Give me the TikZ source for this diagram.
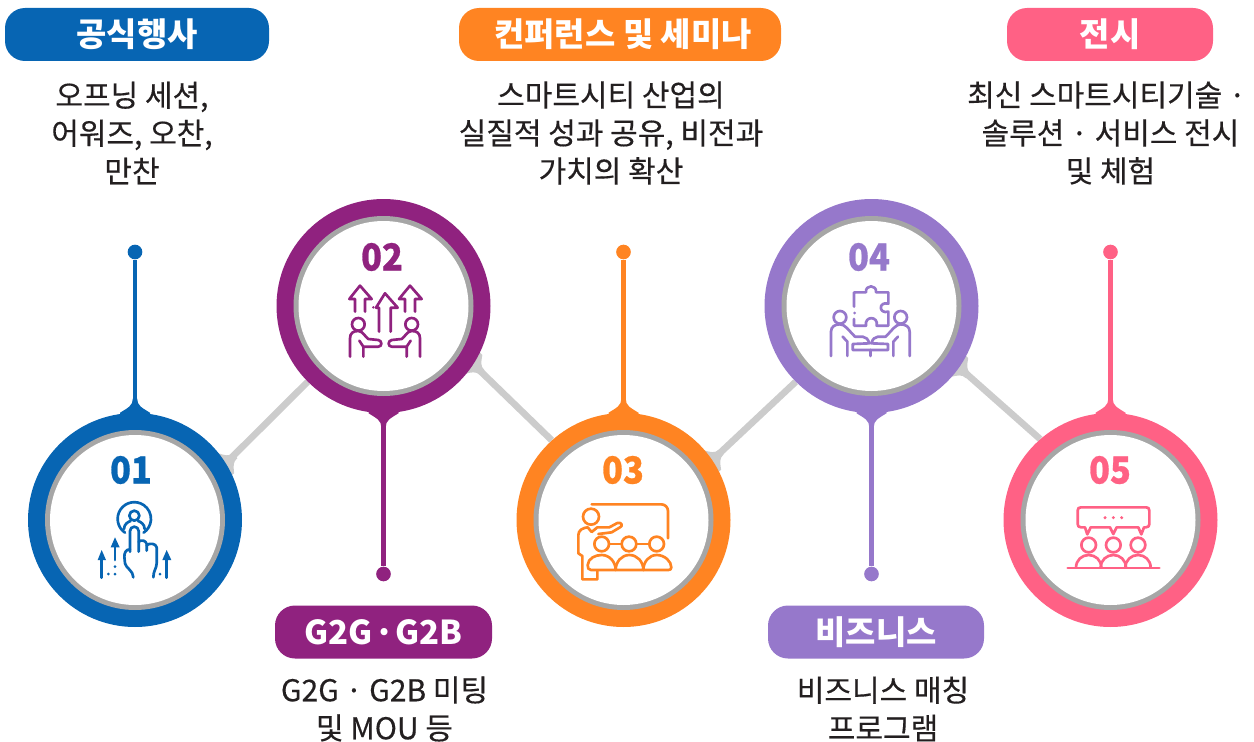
\documentclass[tikz,border=0pt]{standalone}
\usepackage{fontspec}
\setmainfont{Noto Sans CJK KR}
\newfontfamily\bodyfont[FakeBold=0.35]{Noto Sans CJK KR}
\newfontfamily\numfont[FakeBold=0.7,FakeStretch=0.92]{Noto Sans CJK KR Black}
\usetikzlibrary{backgrounds,positioning}
\definecolor{cblue}{HTML}{0765B3}
\definecolor{cpurple}{HTML}{90227F}
\definecolor{corange}{HTML}{FF8422}
\definecolor{cviolet}{HTML}{9678CB}
\definecolor{cpink}{HTML}{FF6185}
\definecolor{cring}{HTML}{A6A6A6}
\definecolor{clink}{HTML}{CCCCCC}
\definecolor{ctext}{HTML}{231F20}
\tikzset{
  outerdisc/.style={circle,inner sep=0pt,minimum size=160.5pt,fill=#1},
  ringdisc/.style={circle,inner sep=0pt,minimum size=135pt,fill=cring},
  innerdisc/.style={circle,inner sep=0pt,minimum size=127.5pt,fill=white},
  pill/.style={rectangle,rounded corners=15pt,fill=#1,text=white,inner sep=0pt,minimum height=39.75pt,font=\fontsize{24.7}{28}\selectfont\bfseries},
  bodytext/.style={align=center,text=ctext,inner sep=0pt,font=\bodyfont\fontsize{22.5}{28.5}\selectfont},
  numtext/.style={text=#1,inner sep=0pt,font=\numfont\fontsize{28}{30}\selectfont},
  pindot/.style={circle,inner sep=0pt,minimum size=11pt,fill=#1},
  stem/.style={draw=#1,line width=3.4pt},
  linkline/.style={draw=clink,line width=5pt},
  iconline/.style={draw=#1,line width=2pt,line cap=round,line join=round,fill=none},
}
\newcommand{\flareat}[3]{%
  \begin{scope}[shift={(#1)},rotate=#2]
    \fill[#3] (-6,-15) -- (0,-15) .. controls (5,-7) and (7,-2.2) .. (14,-2.2) -- (14,2.2) .. controls (7,2.2) and (5,7) .. (0,15) -- (-6,15) -- cycle;
  \end{scope}}
\newcommand{\linkflare}[2]{%
  \begin{scope}[shift={(#1)},rotate=#2]
    \fill[clink] (-6,-13) -- (0,-13) .. controls (4,-7) and (6,-3.3) .. (12,-3.3) -- (12,3.3) .. controls (6,3.3) and (4,7) .. (0,13) -- (-6,13) -- cycle;
  \end{scope}}
\begin{document}
\begin{tikzpicture}[x=0.75pt,y=-0.75pt]
\useasboundingbox (0,0) rectangle (1254,742);
% discs
\node[outerdisc=cblue] (c1) at (135,520) {};
\node[ringdisc] (c1r) at (c1) {}; \node[innerdisc] (c1i) at (c1) {};
\node[outerdisc=cpurple] (c2) at (383.5,306) {};
\node[ringdisc] (c2r) at (c2) {}; \node[innerdisc] (c2i) at (c2) {};
\node[outerdisc=corange] (c3) at (623.5,520) {};
\node[ringdisc] (c3r) at (c3) {}; \node[innerdisc] (c3i) at (c3) {};
\node[outerdisc=cviolet] (c4) at (871.5,306) {};
\node[ringdisc] (c4r) at (c4) {}; \node[innerdisc] (c4i) at (c4) {};
\node[outerdisc=cpink] (c5) at (1110.5,520) {};
\node[ringdisc] (c5r) at (c5) {}; \node[innerdisc] (c5i) at (c5) {};
% dots
\node[pindot=cblue] (d1) at (135,252) {};
\node[pindot=cpurple] (d2) at (383.5,574) {};
\node[pindot=corange] (d3) at (623.5,252) {};
\node[pindot=cviolet] (d4) at (871.5,574) {};
\node[pindot=cpink] (d5) at (1110.5,252) {};
\begin{scope}[on background layer]
  \draw[linkline] (c1.32) -- (c2.225);
  \draw[linkline] (c2.-33) -- (c3.132);
  \draw[linkline] (c3.34) -- (c4.225);
  \draw[linkline] (c4.-35) -- (c5.131);
  \linkflare{c1.32}{39}
  \linkflare{c3.34}{42}
  \linkflare{c2.-33}{-43}
  \linkflare{c4.-35}{-43}
  \draw[stem=cblue] (d1) -- (c1);
  \draw[stem=cpurple] (d2) -- (c2);
  \draw[stem=corange] (d3) -- (c3);
  \draw[stem=cviolet] (d4) -- (c4);
  \draw[stem=cpink] (d5) -- (c5);
  \flareat{c1.90}{90}{cblue}
  \flareat{c2.-90}{-90}{cpurple}
  \flareat{c3.90}{90}{corange}
  \flareat{c4.-90}{-90}{cviolet}
  \flareat{c5.90}{90}{cpink}
\end{scope}
% numbers
\node[numtext=cblue] (n1) at (131,470) {01};
\node[numtext=cpurple] (n2) at (382,257) {02};
\node[numtext=corange] (n3) at (623,470) {03};
\node[numtext=cviolet] (n4) at (869,257) {04};
\node[numtext=cpink] (n5) at (1110,470) {05};
% pills
\node[pill=cblue,minimum width=198pt] (p1) at (137,34.5) {공식행사};
\node[pill=corange,minimum width=241.5pt] (p3) at (620,34.5) {\hspace*{4.5pt}컨퍼런스 및 세미나};
\node[pill=cpink,minimum width=154.5pt] (p5) at (1110,34.5) {전시};
\node[pill=cpurple,minimum width=162.75pt] (p2) at (383.5,632) {G2G \kern-.2em·\kern-.2em{} G2B};
\node[pill=cviolet,minimum width=162pt] (p4) at (876,632) {비즈니스};
% body text
\node[bodytext] (t1) at (132,133) {오프닝 세션,\\어워즈, 오찬,\\만찬};
\node[bodytext] (t3) at (611,133) {스마트시티 산업의\\실질적 성과 공유, 비전과\\가치의 확산};
\node[bodytext] (t5) at (1106.5,133) {최신 스마트시티기술 ·\\\hspace*{6pt}솔루션 · 서비스 전시\\\hspace*{6pt}및 체험};
\node[bodytext] (t2) at (384.5,709) {G2G · G2B 미팅\\및 MOU 등};
\node[bodytext] (t4) at (883,709) {비즈니스 매칭\\프로그램};
% icon 01
\begin{scope}[shift={(0,400)},x=0.25pt,y=-0.25pt]
  \draw[iconline=cblue] (375,398) arc[start angle=124,end angle=416,radius=50];
  \draw[iconline=cblue] (403,347) circle[radius=15];
  \draw[iconline=cblue] (372,387) .. controls (372,372) and (385,365) .. (392,363);
  \draw[iconline=cblue] (434,387) .. controls (434,372) and (421,365) .. (414,363);
  \draw[iconline=cblue] (390,455) -- (390,393) arc[start angle=180,end angle=360,radius=13] -- (416,455);
  \draw[iconline=cblue] (416,425) .. controls (425,418) and (438,422) .. (440,432) -- (440,452);
  \draw[iconline=cblue] (440,436) .. controls (448,428) and (468,430) .. (470,442) -- (470,490) .. controls (470,505) and (460,512) .. (460,532);
  \draw[iconline=cblue] (390,448) .. controls (378,448) and (373,458) .. (373,470) -- (375,490) .. controls (378,505) and (400,512) .. (400,532);
  \draw[iconline=cblue] (305,533) -- (305,475);
  \fill[cblue] (293,480) -- (305,450) -- (318,480) -- cycle;
  \draw[iconline=cblue] (345,480) -- (345,437);
  \fill[cblue] (332,442) -- (345,412) -- (359,442) -- cycle;
  \draw[iconline=cblue] (500,533) -- (500,475);
  \fill[cblue] (487,480) -- (500,450) -- (514,480) -- cycle;
  \foreach \a/\b in {345/500,345/522,325/522,480/522}{\fill[cblue] (\a,\b) circle[radius=4.5];}
\end{scope}
% icon 02
\begin{scope}[shift={(270,195)},x=0.25pt,y=-0.25pt]
  \draw[iconline=cpurple] (255,350) -- (255,312) -- (238,312) -- (270,272) -- (305,312) -- (285,312) -- (285,350);
  \draw[iconline=cpurple] (405,350) -- (405,312) -- (387,312) -- (420,272) -- (455,312) -- (435,312) -- (435,350);
  \draw[iconline=cpurple] (327,410) -- (327,338) -- (318,338) -- (345,295) -- (383,338) -- (362,338) -- (362,410);
  \fill[cpurple] (310,337) circle[radius=4];
  \foreach \m in {0,1}{
    \begin{scope}[shift={(\m*690,0)},xscale={1-2*\m}]
    \draw[iconline=cpurple] (265,388) circle[radius=19];
    \draw[iconline=cpurple] (240,485) -- (240,430) .. controls (240,414) and (250,408) .. (265,408) .. controls (278,408) and (285,425) .. (295,432) -- (325,435) .. controls (337,437) and (337,455) .. (325,455) -- (280,455) -- (280,485);
    \draw[iconline=cpurple] (268,437) -- (280,455);
    \end{scope}}
\end{scope}
% icon 03
\begin{scope}[shift={(510,410)},x=0.25pt,y=-0.25pt]
  \draw[iconline=corange,rounded corners=5pt] (245,283) -- (474,283) -- (474,385);
  \draw[iconline=corange] (243,320) circle[radius=24];
  \draw[iconline=corange] (205,430) -- (205,375) .. controls (205,360) and (220,353) .. (233,352) -- (245,366) -- (262,352) -- (298,352) -- (322,339) .. controls (335,335) and (340,348) .. (330,352) -- (305,367) -- (265,372);
  \draw[iconline=corange] (205,430) -- (217,438) -- (217,508) -- (262,508) -- (262,483);
  \foreach \a in {275,357,440}{\draw[iconline=corange] (\a,402) circle[radius=22];}
  \draw[iconline=corange] (298,402) -- (335,402) (380,402) -- (418,402);
  \draw[iconline=corange] (317,480) -- (243,480) .. controls (235,480) and (233,474) .. (233,465) .. controls (235,445) and (255,435) .. (275,435) .. controls (298,435) and (317,455) .. (317,480);
  \draw[iconline=corange] (317,480) .. controls (317,455) and (335,435) .. (358,435) .. controls (382,435) and (400,455) .. (400,480) -- (317,480);
  \draw[iconline=corange] (400,480) .. controls (400,455) and (418,435) .. (440,435) .. controls (465,435) and (484,455) .. (484,472) .. controls (484,478) and (480,480) .. (475,480) -- (400,480);
\end{scope}
% icon 04
\begin{scope}[shift={(760,195)},x=0.25pt,y=-0.25pt]
  \draw[iconline=cviolet] (282,335) -- (282,292) -- (318,292) .. controls (315,268) and (351,268) .. (348,292) -- (385,292) -- (385,326) .. controls (355,318) and (355,358) .. (385,350) -- (385,392) -- (350,392) .. controls (356,362) and (312,362) .. (318,392) -- (282,392) -- (282,372);
  \fill[cviolet] (284,354) circle[radius=4.5];
  \foreach \m in {0,1}{
    \begin{scope}[shift={(\m*662,0)},xscale={1-2*\m}]
    \draw[iconline=cviolet] (240,367) circle[radius=19];
    \draw[iconline=cviolet] (213,483) -- (213,410) .. controls (213,395) and (225,388) .. (240,388) .. controls (255,388) and (265,405) .. (285,425) -- (308,425) .. controls (318,426) and (324,432) .. (328,445) -- (278,447) -- (278,465) -- (331,465);
    \draw[iconline=cviolet] (248,425) -- (262,440) -- (262,483);
    \end{scope}}
  \draw[iconline=cviolet] (331,465) -- (331,483);
\end{scope}
% icon 05
\begin{scope}[shift={(1000,410)},x=0.25pt,y=-0.25pt]
  \draw[iconline=cpink] (255,352) -- (243,352) .. controls (236,352) and (233,348) .. (233,342) -- (233,302) .. controls (233,295) and (236,292) .. (243,292) -- (438,292) .. controls (445,292) and (448,295) .. (448,302) -- (448,342) .. controls (448,348) and (445,352) .. (438,352) -- (432,352) -- (424,373) -- (415,352) -- (350,352) -- (340,372) -- (330,352) -- (272,352) -- (262,373) -- (255,352);
  \foreach \a in {315,340,365}{\fill[cpink] (\a,323) circle[radius=5];}
  \foreach \a in {266,340,414}{
    \draw[iconline=cpink] (\a,405) circle[radius=22];
    \draw[iconline=cpink] (\a-38,473) .. controls (\a-38,450) and (\a-20,435) .. (\a,435) .. controls (\a+20,435) and (\a+38,450) .. (\a+38,473);}
  \draw[iconline=cpink] (203,474) -- (478,474);
\end{scope}
\end{tikzpicture}
\end{document}
